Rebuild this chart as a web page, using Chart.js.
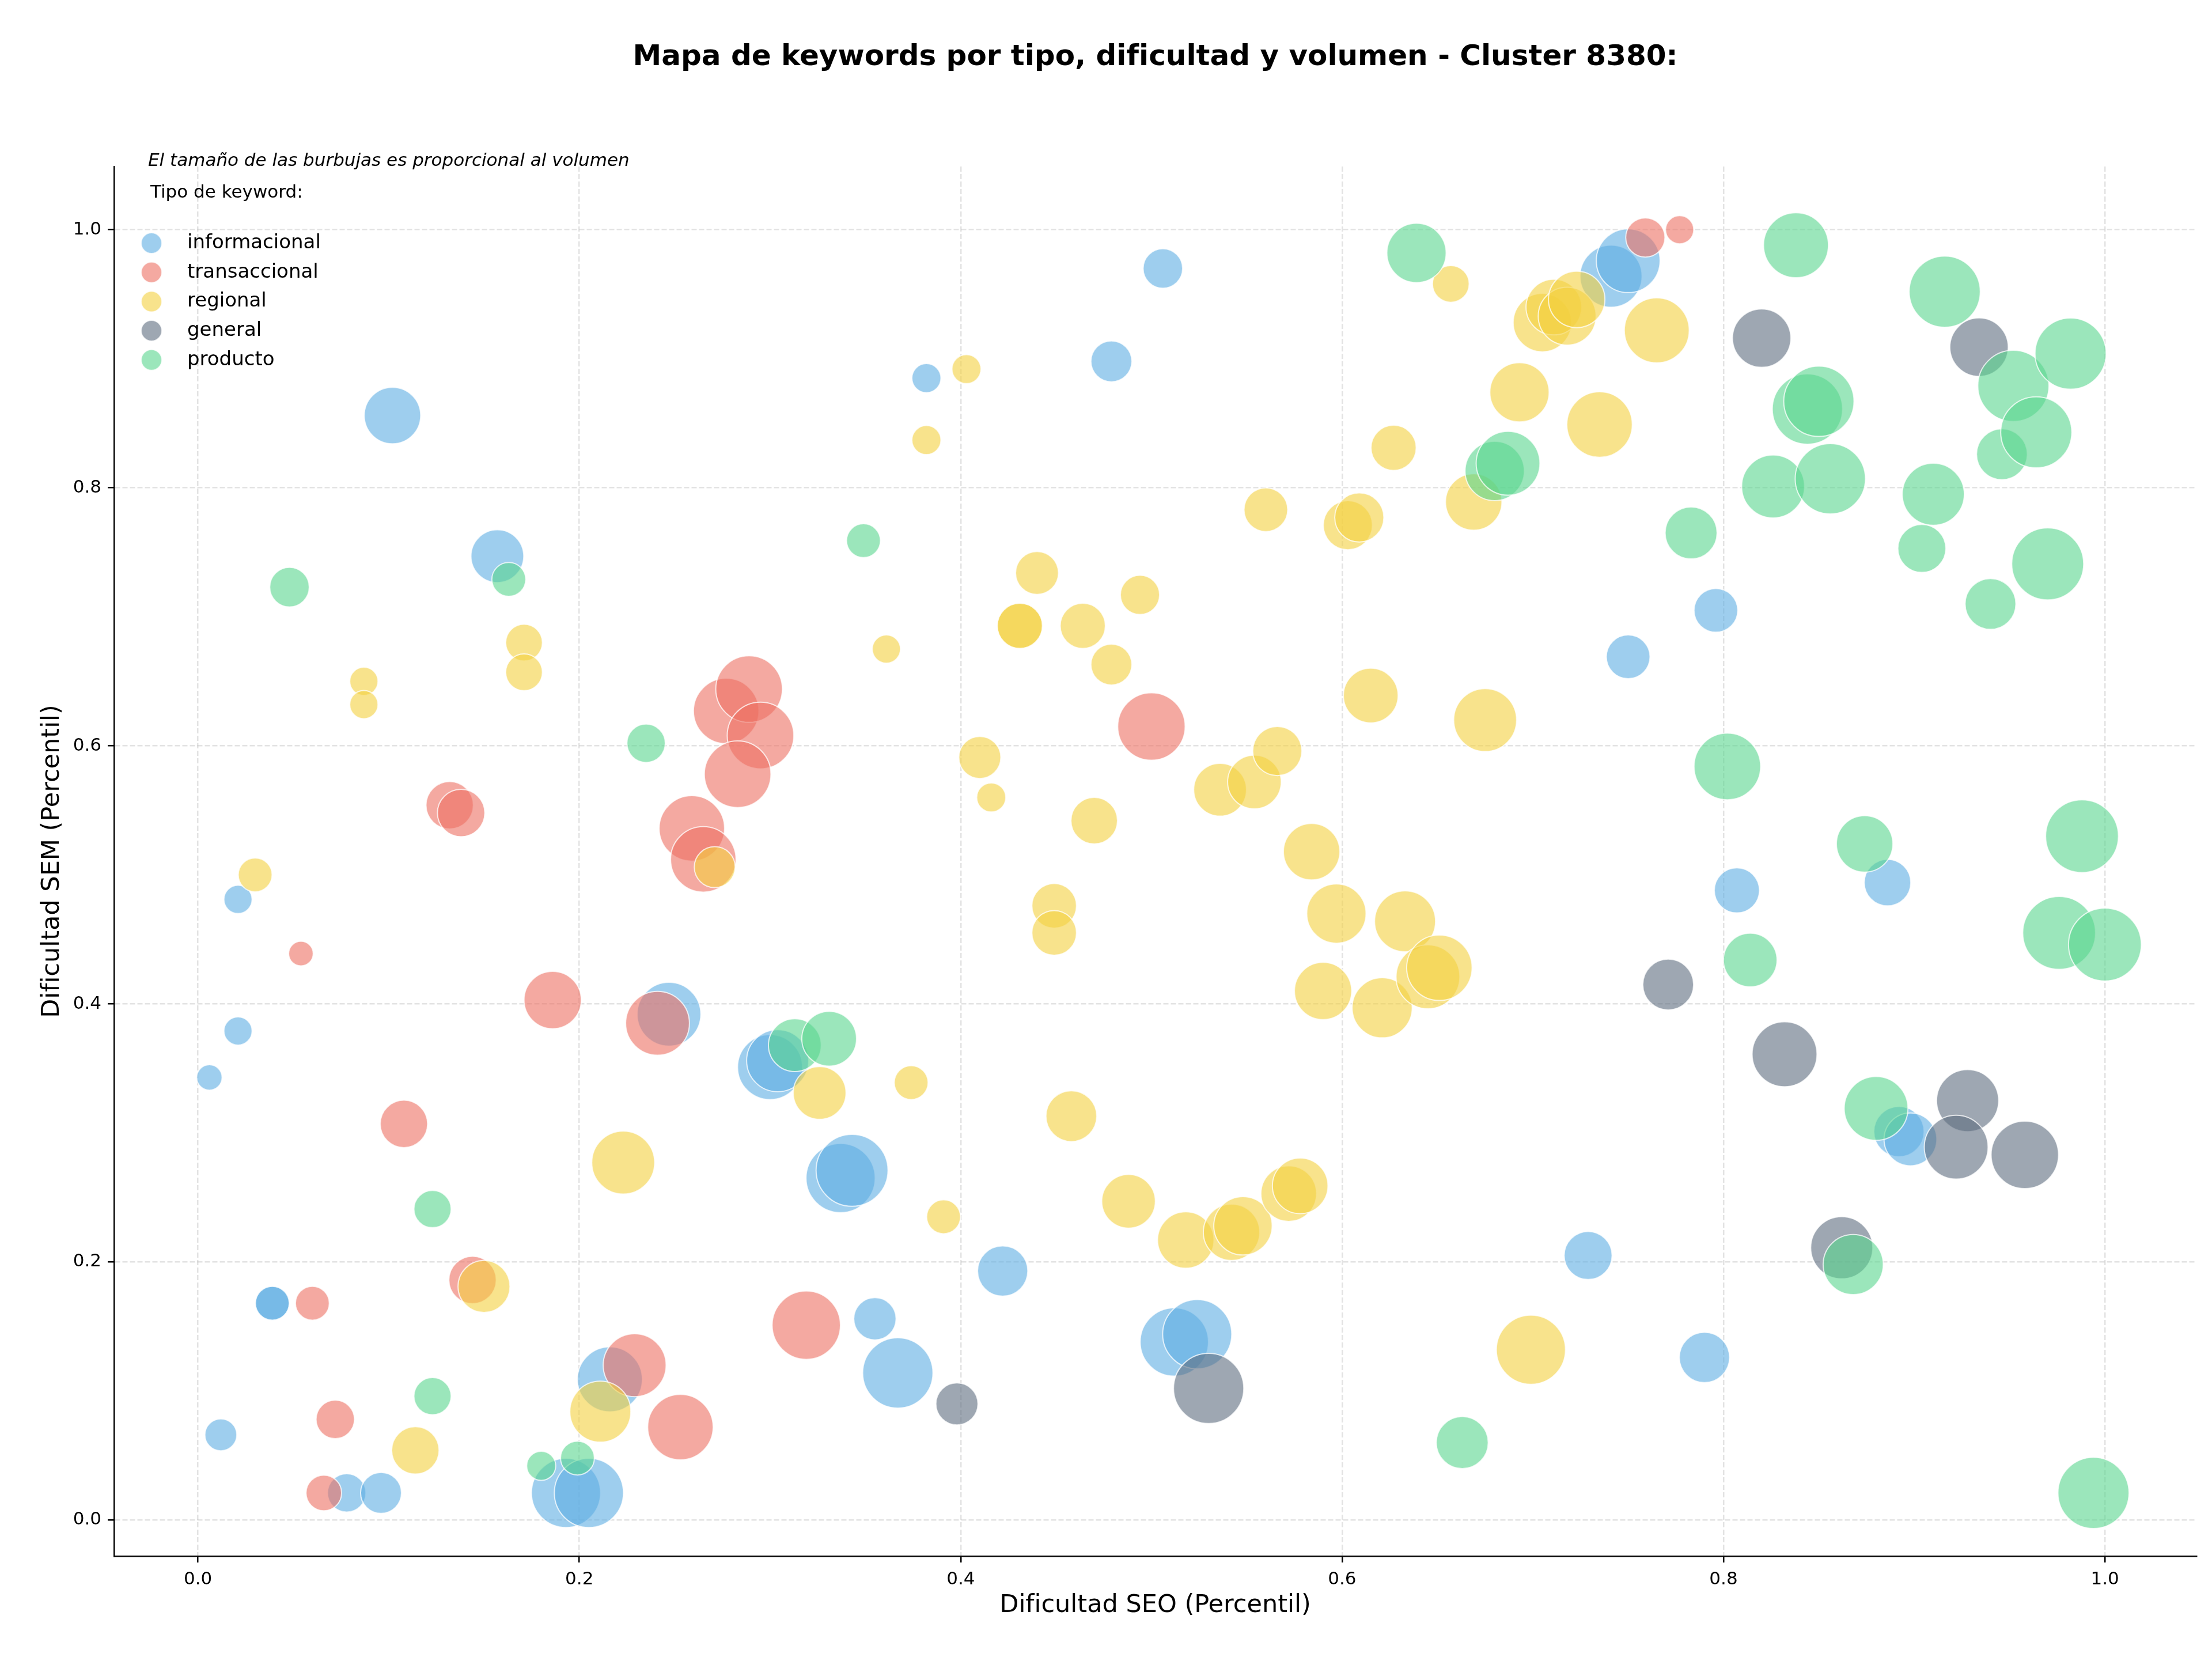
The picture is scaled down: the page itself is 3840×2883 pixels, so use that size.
<!DOCTYPE html>
<html lang="es">
<head>
<meta charset="utf-8">
<title>Mapa de keywords - Cluster 8380</title>
<script src="https://cdn.jsdelivr.net/npm/chart.js@4.4.1/dist/chart.umd.min.js"></script>
<style>
  html, body { margin: 0; padding: 0; background: #fff; }
  #contenedor { width: 3840px; height: 2883px; position: relative; }
</style>
</head>
<body>
<div id="contenedor"><canvas id="grafico"></canvas></div>
<script>

// Tipos de keyword y sus datos (dificultad SEO, dificultad SEM, volumen)
const tipos = ['informacional', 'transaccional', 'regional', 'general', 'producto'];

const infoSeo = [0.102,0.157,0.021,0.021,0.006,0.039,0.039,0.012,0.078,0.096,0.193,0.205,0.216,0.247,0.300,0.304,0.337,0.343,
  0.355,0.367,0.382,0.479,0.506,0.422,0.512,0.524,0.729,0.741,0.750,0.750,0.796,0.807,0.886,0.790,0.892,0.898];
const infoSem = [0.856,0.747,0.481,0.379,0.343,0.168,0.168,0.066,0.021,0.021,0.021,0.021,0.109,0.392,0.351,0.356,0.265,0.271,
  0.156,0.114,0.885,0.898,0.970,0.193,0.138,0.144,0.205,0.964,0.976,0.669,0.705,0.488,0.494,0.126,0.301,0.295];
const infoVol = [400,350,100,100,81,144,144,128,185,210,600,600,530,510,530,484,600,650,
  225,620,106,210,196,317,586,600,289,484,511,240,240,256,272,317,317,350];

const transSeo = [0.054,0.132,0.138,0.108,0.060,0.072,0.066,0.144,0.186,0.241,0.229,0.253,0.259,0.265,0.277,0.289,0.295,0.283,
  0.319,0.500,0.759,0.777];
const transSem = [0.439,0.554,0.548,0.307,0.168,0.078,0.021,0.186,0.403,0.385,0.120,0.072,0.536,0.512,0.627,0.644,0.608,0.578,
  0.151,0.615,0.994,1.000];
const transVol = [76,282,282,282,144,185,159,282,412,511,497,538,538,538,538,557,557,557,586,571,193,100];

const regSeo = [0.087,0.087,0.030,0.171,0.171,0.150,0.114,0.211,0.223,0.271,
  0.326,0.361,0.382,0.403,0.374,0.391,0.410,0.416,0.431,0.431,
  0.440,0.449,0.449,0.464,0.479,0.494,0.470,0.458,0.488,0.518,
  0.542,0.548,0.536,0.554,0.566,0.560,0.584,0.597,0.590,0.572,
  0.578,0.603,0.609,0.615,0.627,0.621,0.633,0.645,0.651,0.657,
  0.669,0.675,0.693,0.705,0.711,0.718,0.723,0.735,0.765,0.699];
const regSem = [0.650,0.632,0.500,0.680,0.657,0.181,0.054,0.084,0.277,0.506,
  0.331,0.675,0.837,0.892,0.339,0.235,0.591,0.560,0.693,0.693,
  0.734,0.476,0.455,0.693,0.663,0.717,0.542,0.313,0.247,0.217,
  0.223,0.228,0.566,0.572,0.596,0.783,0.518,0.470,0.410,0.253,
  0.259,0.771,0.777,0.639,0.831,0.397,0.464,0.421,0.428,0.958,
  0.789,0.620,0.874,0.928,0.940,0.933,0.946,0.849,0.922,0.132];
const regVol = [100,100,144,169,169,339,282,467,497,210,
  350,100,106,106,144,144,222,106,256,256,
  231,250,250,256,210,193,272,324,361,400,
  400,428,350,361,303,240,400,441,412,388,
  388,303,303,376,256,454,467,511,538,169,
  400,497,441,428,388,420,400,538,529,600];

const genSeo = [0.398,0.530,0.771,0.820,0.934,0.832,0.862,0.928,0.922,0.958];
const genSem = [0.090,0.102,0.415,0.916,0.909,0.361,0.211,0.325,0.289,0.283];
const genVol = [222,620,324,428,428,529,484,484,511,571];

const prodSeo = [0.048,0.163,0.235,0.349,0.123,0.123,0.180,0.199,0.313,0.331,
  0.639,0.663,0.680,0.687,0.783,0.802,0.814,0.826,0.838,0.844,
  0.850,0.856,0.874,0.880,0.868,0.904,0.910,0.916,0.940,0.946,
  0.952,0.964,0.970,0.982,0.988,0.976,1.000,0.994];
const prodSem = [0.723,0.729,0.602,0.759,0.241,0.096,0.042,0.048,0.368,0.373,
  0.982,0.060,0.813,0.819,0.765,0.584,0.434,0.801,0.988,0.861,
  0.867,0.807,0.524,0.319,0.198,0.753,0.795,0.952,0.710,0.826,
  0.879,0.843,0.741,0.904,0.530,0.455,0.446,0.021];
const prodVol = [196,144,185,144,174,174,106,144,350,376,
  441,339,441,511,339,557,361,497,529,620,
  620,620,400,511,454,289,484,635,324,324,
  635,635,650,635,666,666,666,635];

const ticksEje = [0, 0.2, 0.4, 0.6, 0.8, 1.0];
const etiquetasEje = ['0.0', '0.2', '0.4', '0.6', '0.8', '1.0'];

const seoPorTipo = [infoSeo, transSeo, regSeo, genSeo, prodSeo];
const semPorTipo = [infoSem, transSem, regSem, genSem, prodSem];
const volPorTipo = [infoVol, transVol, regVol, genVol, prodVol];

// estilos
const coloresTipo = ['93,173,226', '236,112,99', '244,208,63', '93,109,126', '88,214,141'];
const fuente = '"DejaVu Sans", sans-serif';
const escalaRadio = 2.449;
const notaTamano = 'El tamaño de las burbujas es proporcional al volumen';

Chart.defaults.font.family = fuente;
Chart.defaults.color = '#000';

const datasets = tipos.map((tipo, i) => ({
  label: tipo,
  data: seoPorTipo[i].map((x, j) => ({ x: x, y: semPorTipo[i][j], v: volPorTipo[i][j] })),
  backgroundColor: 'rgba(' + coloresTipo[i] + ',0.6)',
  borderColor: 'rgba(255,255,255,0.75)',
  borderWidth: 2,
  radius: c => Math.sqrt(c.raw.v) * escalaRadio,
  order: tipos.length - i
}));

// leyenda dibujada dentro del area del grafico, arriba a la izquierda
const leyendaTipos = {
  id: 'leyendaTipos',
  afterDraw(chart) {
    const ctx = chart.ctx;
    const area = chart.chartArea;
    ctx.save();
    ctx.textBaseline = 'middle';
    ctx.textAlign = 'left';
    ctx.fillStyle = '#000';
    ctx.font = 'italic 31px ' + fuente;
    ctx.fillText(notaTamano, area.left + 59, area.top - 9);
    ctx.font = '31px ' + fuente;
    ctx.fillText('Tipo de keyword:', area.left + 63, area.top + 46);
    chart.data.datasets.forEach((ds, i) => {
      const y = area.top + 133 + i * 50.7;
      ctx.beginPath();
      ctx.arc(area.left + 65, y, 18, 0, Math.PI * 2);
      ctx.fillStyle = ds.backgroundColor;
      ctx.fill();
      ctx.lineWidth = 2;
      ctx.strokeStyle = ds.borderColor;
      ctx.stroke();
      ctx.fillStyle = '#000';
      ctx.font = '34px ' + fuente;
      ctx.fillText(ds.label, area.left + 127, y);
    });
    ctx.restore();
  }
};

const rejilla = {
  color: 'rgba(176,176,176,0.35)',
  lineWidth: 2.5,
  tickLength: 11,
  tickColor: '#000',
  tickWidth: 2.5,
  tickBorderDash: []
};
const borde = { display: true, color: '#000', width: 2.5, dash: [9, 4] };
const marcas = {
  callback: (v, i) => etiquetasEje[i],
  font: { size: 31 },
  color: '#000',
  padding: 11,
  maxRotation: 0,
  autoSkip: false
};

new Chart(document.getElementById('grafico'), {
  type: 'bubble',
  data: { datasets: datasets },
  options: {
    responsive: true,
    maintainAspectRatio: false,
    devicePixelRatio: 1,
    animation: false,
    events: [],
    layout: { autoPadding: false, padding: { top: 0, right: 27, bottom: 0, left: 0 } },
    scales: {
      x: {
        type: 'linear',
        min: -0.044,
        max: 1.048,
        afterBuildTicks: s => { s.ticks = ticksEje.map(v => ({ value: v })); },
        afterFit: s => { s.height = 182; },
        ticks: marcas,
        grid: rejilla,
        border: borde,
        title: {
          display: true,
          text: 'Dificultad SEO (Percentil)',
          font: { size: 43 },
          color: '#000',
          padding: { top: 0, bottom: 70 }
        }
      },
      y: {
        type: 'linear',
        min: -0.028,
        max: 1.049,
        afterBuildTicks: s => { s.ticks = ticksEje.map(v => ({ value: v })); },
        afterFit: s => { s.width = 198; },
        ticks: marcas,
        grid: rejilla,
        border: borde,
        title: {
          display: true,
          text: 'Dificultad SEM (Percentil)',
          font: { size: 43 },
          color: '#000',
          padding: { top: 65, bottom: 0 }
        }
      }
    },
    plugins: {
      legend: { display: false },
      tooltip: { enabled: false },
      title: {
        display: true,
        fullSize: false,
        text: 'Mapa de keywords por tipo, dificultad y volumen - Cluster 8380:',
        font: { size: 50, weight: 'bold' },
        color: '#000',
        padding: { top: 70, bottom: 159 }
      }
    }
  },
  plugins: [leyendaTipos]
});

</script>
</body>
</html>
